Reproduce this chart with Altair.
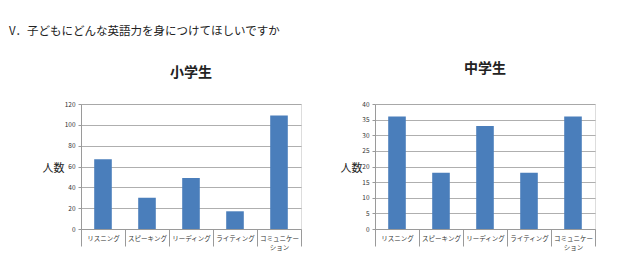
import altair as alt
import pandas as pd

FONT = "Noto Sans CJK JP"
page_title = "V．子どもにどんな英語力を身につけてほしいですか"
categories = ["リスニング", "スピーキング", "リーディング", "ライティング", "コミュニケーション"]
elem_values = [67, 30, 49, 17, 109]
junior_values = [36, 18, 33, 18, 36]
panel_titles = ["小学生", "中学生"]
y_title = "人数"

BAR = "#4A7EBB"
GRID = "#9A9A9A"

label_expr = "datum.label == 'コミュニケーション' ? ['コミュニケー', 'ション'] : datum.label"


def text_layer(txt, x, y, size, weight, align, baseline):
    return alt.Chart(pd.DataFrame({"t": [txt]})).mark_text(
        align=align, baseline=baseline, font=FONT, fontSize=size,
        fontWeight=weight, color="#222222"
    ).encode(x=alt.value(x), y=alt.value(y), text="t:N")


def panel(values, title, ymax, ystep, title_x, title_y, extra=None):
    df = pd.DataFrame({"cat": categories, "val": values})
    x = alt.X(
        "cat:N", sort=categories, title=None,
        scale=alt.Scale(paddingInner=0, paddingOuter=0),
        axis=alt.Axis(
            labelAngle=0, labelFont=FONT, labelFontSize=6.5, labelColor="#333333",
            tickBand="extent", tickSize=17, tickColor=GRID, domainColor=GRID,
            labelPadding=-8, labelBaseline="middle", labelExpr=label_expr,
            labelLineHeight=9,
        ),
    )
    y = alt.Y(
        "val:Q", title=y_title,
        scale=alt.Scale(domain=[0, ymax], nice=False),
        axis=alt.Axis(
            values=list(range(0, ymax + 1, ystep)), labelFont=FONT, labelFontSize=6.5,
            labelColor="#333333", tickSize=3, tickColor=GRID, domainColor=GRID,
            gridColor=GRID, gridWidth=0.8, labelPadding=3,
            titleAngle=0, titleX=title_x, titleY=64, titleAlign="center",
            titleBaseline="middle", titleFont=FONT, titleFontSize=11,
            titleFontWeight="normal", titleColor="#222222",
        ),
    )
    bars = alt.Chart(df).mark_bar(color=BAR, width=alt.RelativeBandSize(0.4)).encode(x=x, y=y)
    layers = [bars, text_layer(title, 110, title_y, 14, "bold", "center", "middle")]
    if extra is not None:
        layers.append(extra)
    return alt.layer(*layers).properties(width=220, height=125)


head = text_layer(page_title, -72, -78, 11.5, "normal", "left", "top")

left = panel(elem_values, panel_titles[0], 120, 20, -28, -31, head)
right = panel(junior_values, panel_titles[1], 40, 5, -24, -35)

chart = alt.hconcat(left, right, spacing=37).properties(
    padding={"left": 8, "top": 25, "right": 5, "bottom": 5}
).configure_view(stroke=None).configure(background="white")

chart.save("out.html", embed_options={"renderer": "svg", "actions": False})
